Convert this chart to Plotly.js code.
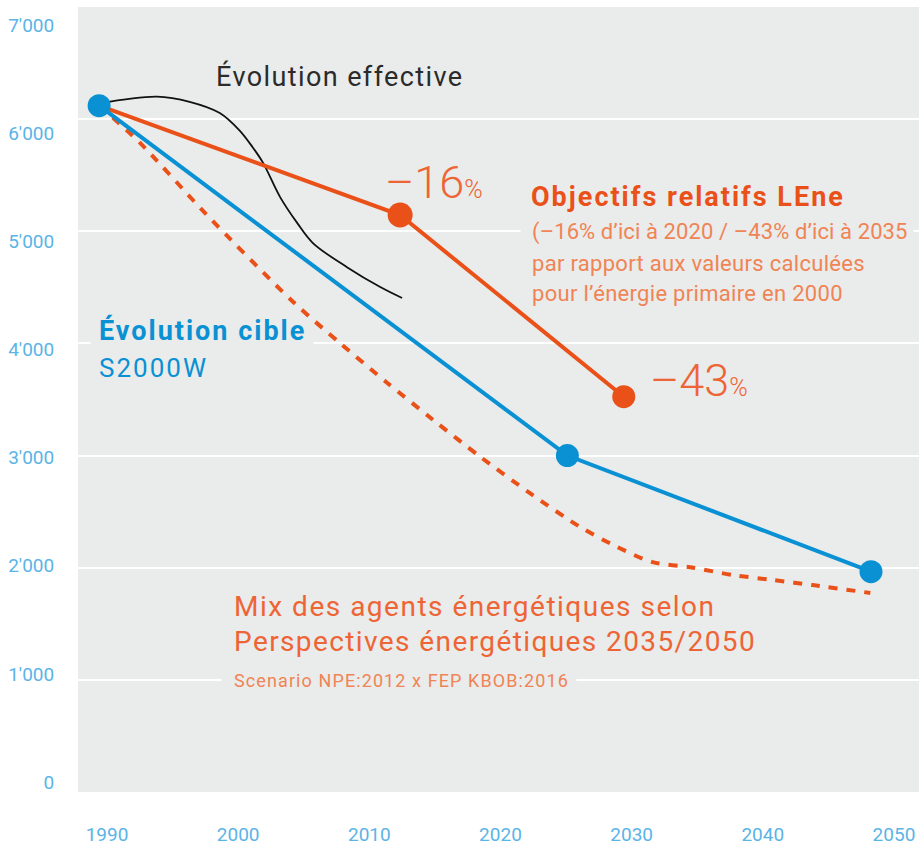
<!DOCTYPE html>
<html>
<head>
<meta charset="utf-8">
<script src="https://cdn.plot.ly/plotly-3.0.1.min.js"></script>
<style>html,body{margin:0;padding:0;background:#fff;}#chart{width:919px;height:845px;}</style>
</head>
<body>
<div id="chart"></div>
<script>
// ---- data ----
const targetYears = [1989.4, 2025.1, 2048.25];
const targetValues = [6120, 3000, 1965];

const leneStartYear = [1989.4];
const leneStartValue = [6120];
const leneGoalYears = [2012.35, 2029.4];
const leneGoalValues = [5145, 3525];

const mixYears = [1989.4, 1992.5, 1997.5, 2004.2, 2007.8, 2011.35, 2014.85, 2018.45, 2022.25, 2026.05, 2028.9, 2031.6, 2034.7, 2037.7, 2040.8, 2043.8, 2048.2];
const mixValues = [6120, 5790, 5160, 4370, 4000, 3650, 3320, 2990, 2665, 2365, 2185, 2050, 2000, 1935, 1890, 1845, 1775];

const actualYears = [1989.4, 1993.8, 1996.3, 1998.6, 2000.1, 2001.1, 2001.9, 2003.2, 2004.5, 2005.7, 2008.3, 2010.8, 2012.5];
const actualValues = [6140, 6200, 6155, 6055, 5900, 5750, 5610, 5305, 5075, 4895, 4680, 4505, 4405];

const yTickVals = [0, 1000, 2000, 3000, 4000, 5000, 6000, 7000];
const yTickText = ["0", "1'000", "2'000", "3'000", "4'000", "5'000", "6'000", "7'000"];
const xTickVals = [1990, 2000, 2010, 2020, 2030, 2040, 2050];
const xTickText = ["1990", "2000", "2010", "2020", "2030", "2040", "2050"];

// ---- style ----
const BLUE = '#0991d4';
const TICK = '#5ab4e6';
const ORANGE = '#ea5119';
const ORANGE_TXT = '#ee6535';
const ORANGE_SUB = '#f08454';
const BG = '#eaebeb';
const FONT = 'Roboto, "DejaVu Sans", sans-serif';

const traces = [
  { x: mixYears, y: mixValues, mode: 'lines', line: { color: ORANGE, width: 4, dash: '9px,9px', shape: 'spline', smoothing: 0.8 }, hoverinfo: 'skip' },
  { x: actualYears, y: actualValues, mode: 'lines', line: { color: '#111111', width: 1.8, shape: 'spline', smoothing: 1 }, hoverinfo: 'skip' },
  { x: leneStartYear.concat(leneGoalYears), y: leneStartValue.concat(leneGoalValues), mode: 'lines', line: { color: ORANGE, width: 4 }, hoverinfo: 'skip' },
  { x: leneGoalYears, y: leneGoalValues, mode: 'markers', marker: { color: ORANGE, size: [25, 23], opacity: 1, line: { width: 0 } }, hoverinfo: 'skip' },
  { x: targetYears, y: targetValues, mode: 'lines+markers', line: { color: BLUE, width: 4 }, marker: { color: BLUE, size: 23, opacity: 1, line: { width: 0 } }, hoverinfo: 'skip' },
  // invisible helper so the label axis is drawn
  { x: [xTickVals[0]], y: [yTickVals[0]], yaxis: 'y2', mode: 'markers', marker: { opacity: 0 }, hoverinfo: 'skip' }
];

function px(x) { return (x - 78) / 841; }
function py(y) { return (792 - y) / 785; }
function ls(t, s) { return "<span style='letter-spacing:" + s + "px'>" + t + "</span>"; }
function ann(text, x, y, size, color, extra) {
  return Object.assign({ xref: 'paper', yref: 'paper', x: px(x), y: py(y), xanchor: 'left', yanchor: 'middle', text: text, showarrow: false, align: 'left', font: { family: FONT, size: size, color: color } }, extra || {});
}
// thin background strip that interrupts a gridline behind a text label
function gap(x0, x1, y) {
  return { xref: 'paper', yref: 'paper', x: px(x0), y: py(y), xanchor: 'left', yanchor: 'middle', text: ' ', showarrow: false, width: x1 - x0, height: 6, bgcolor: BG, borderpad: 0, font: { size: 2, color: BG } };
}

const annotations = [
  gap(520, 912, 231),
  gap(90, 312, 343),
  gap(221, 575, 680),
  ann(ls('Évolution effective', 1.4), 214, 77, 27, '#2b2b2b'),
  ann("–16<span style='font-size:25px'>%</span>", 383, 183, 45, ORANGE_TXT, { font: { family: FONT, size: 45, color: ORANGE_TXT, weight: 300 } }),
  ann('<b>' + ls('Objectifs relatifs LEne', 2) + '</b>', 529, 197, 27, ORANGE),
  ann(ls("(–16% d’ici à 2020 / –43% d’ici à 2035", 0.1), 530, 232, 22, ORANGE_SUB),
  ann(ls("par rapport aux valeurs calculées", 0.3), 530, 263, 22, ORANGE_SUB),
  ann(ls("pour l’énergie primaire en 2000", 0.3), 530, 293, 22, ORANGE_SUB),
  ann('<b>' + ls('Évolution cible', 2) + '</b>', 97, 330, 27, BLUE),
  ann(ls('S2000W', 2), 97, 368, 26, BLUE),
  ann("–43<span style='font-size:25px'>%</span>", 648, 380, 45, ORANGE_TXT, { font: { family: FONT, size: 45, color: ORANGE_TXT, weight: 300 } }),
  ann(ls('Mix des agents énergétiques selon', 1.5), 232, 606, 28, ORANGE_TXT),
  ann(ls('Perspectives énergétiques 2035/2050', 1.4), 232, 641, 28, ORANGE_TXT),
  ann(ls('Scenario NPE:2012 x FEP KBOB:2016', 1.1), 232, 680, 18, ORANGE_SUB)
];

const layout = {
  width: 919, height: 845,
  margin: { l: 78, r: 0, t: 7, b: 53 },
  paper_bgcolor: '#ffffff',
  plot_bgcolor: BG,
  showlegend: false,
  font: { family: FONT, color: TICK },
  xaxis: {
    range: [1987.79, 2051.91], tickvals: xTickVals, ticktext: xTickText,
    showgrid: false, zeroline: false, showline: false,
    ticks: 'outside', ticklen: 25, tickcolor: 'rgba(0,0,0,0)',
    tickfont: { family: FONT, size: 19, color: TICK }
  },
  yaxis: {
    range: [0, 7000], tickvals: yTickVals,
    showticklabels: false, ticks: '',
    showgrid: true, gridcolor: '#ffffff', gridwidth: 2, zeroline: false, showline: false
  },
  yaxis2: {
    overlaying: 'y', side: 'left', anchor: 'x',
    range: [-92.5, 7166], tickvals: yTickVals, ticktext: yTickText,
    showgrid: false, zeroline: false, showline: false,
    ticks: 'outside', ticklen: 19, tickcolor: 'rgba(0,0,0,0)',
    tickfont: { family: FONT, size: 19, color: TICK }
  },
  annotations: annotations
};

Plotly.newPlot('chart', traces, layout, { displayModeBar: false, staticPlot: true });
</script>
</body>
</html>
